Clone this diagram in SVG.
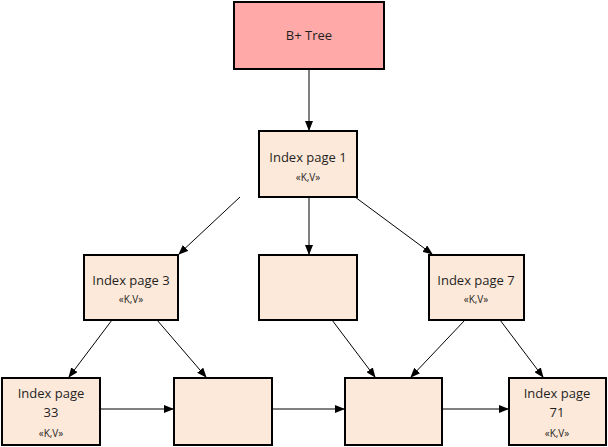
<svg xmlns="http://www.w3.org/2000/svg" width="608" height="447" viewBox="0 0 608 447">
<style>
.n{fill:#fde9d9;stroke:#000;stroke-width:2}
.t{font-family:"Open Sans","DejaVu Sans",sans-serif;font-size:13px;fill:#1f1f1f;text-anchor:middle}
.s{font-family:"Open Sans","DejaVu Sans",sans-serif;font-size:10px;fill:#1f1f1f;text-anchor:middle}
.c line{stroke:#000;stroke-width:1;marker-end:url(#a)}
</style>
<defs><marker id="a" markerWidth="10" markerHeight="8" refX="9" refY="4" orient="auto" markerUnits="userSpaceOnUse"><path d="M0,0L10,4L0,8z" fill="#000"/></marker></defs>
<rect width="608" height="447" fill="#fff"/>
<g class="c">
<line x1="309" y1="69" x2="309" y2="130"/>
<line x1="240" y1="197" x2="179" y2="254"/>
<line x1="309" y1="197" x2="309" y2="254"/>
<line x1="355" y1="197" x2="432" y2="254"/>
<line x1="112" y1="320" x2="69" y2="377"/>
<line x1="157" y1="320" x2="206" y2="377"/>
<line x1="332" y1="320" x2="375" y2="377"/>
<line x1="465" y1="320" x2="411" y2="377"/>
<line x1="500" y1="320" x2="543" y2="377"/>
<line x1="100" y1="409" x2="173" y2="409"/>
<line x1="272" y1="409" x2="344" y2="409"/>
<line x1="442" y1="409" x2="508" y2="409"/>
</g>
<g id="bptree"><rect x="234" y="2" width="150" height="67" fill="#ffa9a9" stroke="#000" stroke-width="2"/><text class="t" x="309" y="40">B+ Tree</text></g>
<g id="ip1"><rect class="n" x="259" y="131" width="98" height="66"/><text class="t" x="308" y="162">Index page 1</text><text class="s" x="308" y="181">«K,V»</text></g>
<g id="ip3"><rect class="n" x="84" y="255" width="94" height="65"/><text class="t" x="131" y="285">Index page 3</text><text class="s" x="131" y="303">«K,V»</text></g>
<g id="mid"><rect class="n" x="259" y="255" width="98" height="65"/></g>
<g id="ip7"><rect class="n" x="429" y="255" width="95" height="65"/><text class="t" x="476" y="285">Index page 7</text><text class="s" x="476" y="303">«K,V»</text></g>
<g id="ip33"><rect class="n" x="2" y="378" width="98" height="67"/><text class="t" x="51" y="398">Index page</text><text class="t" x="51" y="417">33</text><text class="s" x="51" y="437">«K,V»</text></g>
<g id="l2"><rect class="n" x="174" y="378" width="98" height="67"/></g>
<g id="l3"><rect class="n" x="345" y="378" width="97" height="67"/></g>
<g id="ip71"><rect class="n" x="509" y="378" width="97" height="67"/><text class="t" x="557" y="398">Index page</text><text class="t" x="557" y="417">71</text><text class="s" x="557" y="437">«K,V»</text></g>
</svg>
